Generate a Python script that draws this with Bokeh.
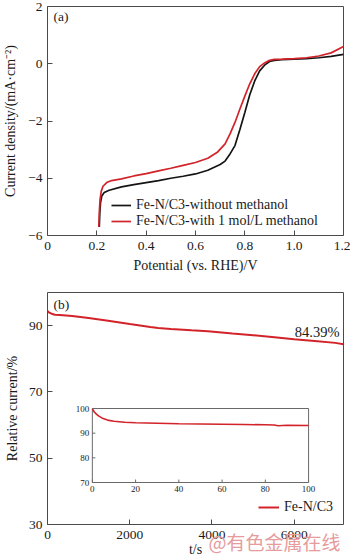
from bokeh.plotting import figure
from bokeh.layouts import column
from bokeh.models import Range1d, FixedTicker, Legend, LegendItem, Title
from bokeh.core.properties import value
from bokeh.embed import file_html
from bokeh.resources import INLINE

# ---------------- data: panel (a) LSV curves ----------------
pot_without = [0.210, 0.212, 0.215, 0.220, 0.230, 0.250, 0.300, 0.350, 0.400, 0.450,
               0.500, 0.550, 0.600, 0.650, 0.700, 0.720, 0.740, 0.760, 0.780, 0.800,
               0.820, 0.840, 0.860, 0.880, 0.900, 0.920, 0.950, 1.000, 1.050, 1.100,
               1.150, 1.200]
cur_without = [-5.70, -5.20, -4.85, -4.62, -4.50, -4.42, -4.30, -4.22, -4.15, -4.08,
               -4.00, -3.93, -3.85, -3.72, -3.52, -3.40, -3.15, -2.86, -2.30, -1.70,
               -1.08, -0.60, -0.25, -0.05, 0.08, 0.12, 0.14, 0.16, 0.18, 0.21,
               0.26, 0.33]
pot_with = [0.208, 0.210, 0.213, 0.218, 0.225, 0.240, 0.260, 0.300, 0.350, 0.400,
            0.450, 0.500, 0.550, 0.600, 0.650, 0.690, 0.720, 0.740, 0.760, 0.780,
            0.800, 0.820, 0.840, 0.860, 0.880, 0.900, 0.920, 0.950, 1.000, 1.050,
            1.100, 1.150, 1.200]
cur_with = [-5.70, -5.20, -4.75, -4.45, -4.28, -4.15, -4.08, -4.02, -3.92, -3.84,
            -3.74, -3.65, -3.55, -3.45, -3.30, -3.08, -2.80, -2.45, -2.05, -1.58,
            -1.13, -0.70, -0.35, -0.10, 0.03, 0.12, 0.15, 0.16, 0.18, 0.21,
            0.27, 0.38, 0.60]
a_xticks = [0, 0.2, 0.4, 0.6, 0.8, 1.0, 1.2]
a_xlabels = ["0", "0.2", "0.4", "0.6", "0.8", "1.0", "1.2"]
a_yticks = [-6, -4, -2, 0, 2]
a_ylabels = ["\u22126", "\u22124", "\u22122", "0", "2"]
a_legend = ["Fe-N/C3-without methanol", "Fe-N/C3-with 1 mol/L methanol"]

# ---------------- data: panel (b) chronoamperometry ----------------
time_s = [0, 30, 100, 180, 300, 600, 1000, 1475, 2000, 2500, 2690, 3000, 3500,
          3900, 4500, 5000, 5520, 6000, 6500, 7000, 7200]
rel_cur = [94.5, 94.0, 93.6, 93.3, 93.2, 92.9, 92.3, 91.5, 90.5, 89.6, 89.3, 89.0,
           88.6, 88.3, 87.6, 87.1, 86.5, 85.9, 85.4, 84.8, 84.39]
b_xticks = [0, 2000, 4000, 6000]
b_yticks = [30, 50, 70, 90]
b_legend = "Fe-N/C3"
b_annot = "84.39%"

# inset (first 100 s)
in_time = [0, 1, 2, 3, 5, 7, 10, 15, 20, 30, 40, 50, 60, 70, 80, 84, 86, 90, 100]
in_cur = [99.8, 98.5, 97.6, 96.9, 95.9, 95.3, 94.8, 94.4, 94.2, 94.0, 93.8, 93.7,
          93.6, 93.5, 93.4, 93.3, 93.0, 93.2, 93.1]
in_xticks = [0, 20, 40, 60, 80, 100]
in_yticks = [70, 80, 90, 100]
in_xlim = (0, 100)
in_ylim = (70, 100)

watermark = "@有色金属在线"

# ---------------- styles ----------------
SERIF = "Liberation Serif"
RED = "#d2232a"
BLACK = "#141414"
FRAME = "#4a4a4a"
TXT = "#1a1a1a"


def style(p):
    p.outline_line_color = FRAME
    p.outline_line_width = 1
    p.grid.visible = False
    p.background_fill_color = "white"
    p.border_fill_color = "white"
    for ax in (p.xaxis[0], p.yaxis[0]):
        ax.axis_line_color = None
        ax.major_tick_in = 5
        ax.major_tick_out = 0
        ax.minor_tick_line_color = None
        ax.major_tick_line_color = FRAME
        ax.major_label_text_font = SERIF
        ax.major_label_text_font_size = "13.5px"
        ax.major_label_text_color = TXT
        ax.axis_label_text_font = SERIF
        ax.axis_label_text_font_size = "14px"
        ax.axis_label_text_font_style = "normal"
        ax.axis_label_text_color = TXT
        ax.major_label_standoff = 5


# ---------------- panel (a) ----------------
pa = figure(width=350, height=280, output_backend="svg", toolbar_location=None,
            x_range=Range1d(0, 1.2), y_range=Range1d(-6, 2),
            min_border_left=46, min_border_right=7, min_border_top=6,
            min_border_bottom=45)
style(pa)
pa.xaxis.ticker = FixedTicker(ticks=a_xticks)
pa.xaxis.major_label_overrides = dict(zip(a_xticks, a_xlabels))
pa.yaxis.ticker = FixedTicker(ticks=a_yticks)
pa.yaxis.major_label_overrides = dict(zip(a_yticks, a_ylabels))
pa.xaxis.axis_label = "Potential (vs. RHE)/V"
pa.yaxis.axis_label = "Current density/(mA\u00b7cm\u207b\u00b2)"
pa.xaxis.axis_label_standoff = 5
pa.yaxis.axis_label_standoff = 7
pa.xaxis.major_label_standoff = 6

r_black = pa.line(pot_without, cur_without, line_color=BLACK, line_width=1.7)
r_red = pa.line(pot_with, cur_with, line_color=RED, line_width=1.7)

leg_a = Legend(items=[LegendItem(label=a_legend[0], renderers=[r_black]),
                      LegendItem(label=a_legend[1], renderers=[r_red])],
               location=(64, 6), border_line_color=None, background_fill_alpha=0,
               padding=0, margin=0, spacing=0, glyph_width=20, glyph_height=16,
               label_height=16, label_standoff=5, label_text_font=SERIF,
               label_text_font_size="14px", label_text_color=TXT)
pa.add_layout(leg_a)
pa.text(x=[0], y=[2], text=["(a)"], x_offset=6, y_offset=2,
        text_font=value(SERIF), text_font_size="13.5px", text_color=TXT,
        text_baseline="top", text_align="left")

# ---------------- panel (b) ----------------
X_END = 7200
pb = figure(width=350, height=283, output_backend="svg", toolbar_location=None,
            x_range=Range1d(0, X_END), y_range=Range1d(30, 100),
            min_border_left=46, min_border_right=7, min_border_top=12,
            min_border_bottom=39)
style(pb)
pb.xaxis.ticker = FixedTicker(ticks=b_xticks)
pb.yaxis.ticker = FixedTicker(ticks=b_yticks)
pb.xaxis.axis_label = "t/s"
pb.xaxis.axis_label_standoff = 0
pb.yaxis.axis_label = "Relative current/%"
pb.yaxis.axis_label_standoff = 6
pb.xaxis.major_label_standoff = 6

r_b = pb.line(time_s, rel_cur, line_color=RED, line_width=2)

# inset placed inside frame via extra ranges (fractions of the frame)
fx0, fx1 = 0.1515, 0.882
fy0, fy1 = 0.181, 0.500
ix_span = (in_xlim[1] - in_xlim[0]) / (fx1 - fx0)
iy_span = (in_ylim[1] - in_ylim[0]) / (fy1 - fy0)
pb.extra_x_ranges = {"ix": Range1d(in_xlim[0] - fx0 * ix_span, in_xlim[0] + (1 - fx0) * ix_span)}
pb.extra_y_ranges = {"iy": Range1d(in_ylim[0] - fy0 * iy_span, in_ylim[0] + (1 - fy0) * iy_span)}

pb.quad(left=[in_xlim[0]], right=[in_xlim[1]], bottom=[in_ylim[0]], top=[in_ylim[1]],
        x_range_name="ix", y_range_name="iy", fill_color="white",
        line_color="#6a6a6a", line_width=1)
tick_dy = (in_ylim[1] - in_ylim[0]) * 0.04
tick_dx = (in_xlim[1] - in_xlim[0]) * 0.014
pb.segment(x0=in_xticks, y0=[in_ylim[0]] * len(in_xticks), x1=in_xticks,
           y1=[in_ylim[0] + tick_dy] * len(in_xticks), x_range_name="ix",
           y_range_name="iy", line_color="#6a6a6a", line_width=1)
pb.segment(x0=[in_xlim[0]] * len(in_yticks), y0=in_yticks,
           x1=[in_xlim[0] + tick_dx] * len(in_yticks), y1=in_yticks,
           x_range_name="ix", y_range_name="iy", line_color="#6a6a6a", line_width=1)
pb.text(x=in_xticks, y=[in_ylim[0]] * len(in_xticks), text=[str(t) for t in in_xticks],
        x_range_name="ix", y_range_name="iy", text_align="center", text_baseline="top",
        y_offset=3, text_font=value(SERIF), text_font_size="9px", text_color=TXT)
pb.text(x=[in_xlim[0]] * len(in_yticks), y=in_yticks, text=[str(t) for t in in_yticks],
        x_range_name="ix", y_range_name="iy", text_align="right", text_baseline="middle",
        x_offset=-3, text_font=value(SERIF), text_font_size="9px", text_color=TXT)
pb.line(in_time, in_cur, x_range_name="ix", y_range_name="iy", line_color=RED,
        line_width=1.6)

leg_b = Legend(items=[LegendItem(label=b_legend, renderers=[r_b])],
               location=(211, 9), border_line_color=None, background_fill_alpha=0,
               padding=0, margin=0, spacing=0, glyph_width=21, glyph_height=16,
               label_height=16, label_standoff=5, label_text_font=SERIF,
               label_text_font_size="14px", label_text_color=TXT)
pb.add_layout(leg_b)

pb.text(x=[0], y=[100], text=["(b)"], x_offset=6, y_offset=4,
        text_font=value(SERIF), text_font_size="13.5px", text_color=TXT,
        text_baseline="top", text_align="left")
pb.text(x=[time_s[-1]], y=[rel_cur[-1]], text=[b_annot], x_offset=-4, y_offset=-12,
        text_font=value(SERIF), text_font_size="14.5px", text_color=TXT,
        text_baseline="middle", text_align="right")

# watermark overlapping the bottom tick labels: a title in the lower side panel,
# pulled upward with a negative standoff
wm = Title(text=watermark, align="right", vertical_align="top", offset=3,
           standoff=-64, text_font="Noto Sans CJK SC", text_font_size="19px",
           text_font_style="normal", text_color="#e69c9c")
pb.add_layout(wm, "below")

layout = column(pa, pb, spacing=0)
open("out.html", "w").write(file_html(layout, INLINE))
